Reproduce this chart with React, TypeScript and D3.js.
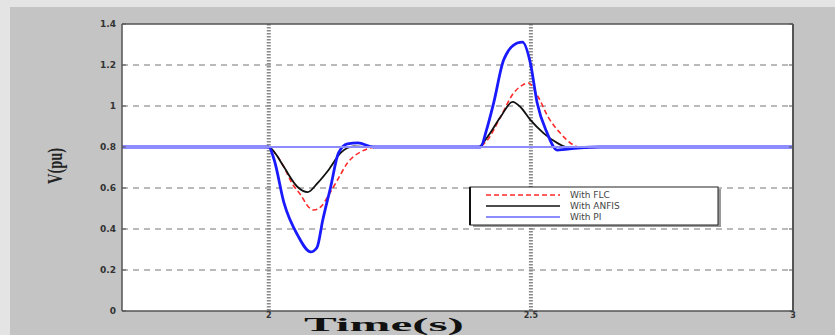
import React from "react";
import * as d3 from "d3";

const W = 835;
const H = 335;

const yTicks = [0, 0.2, 0.4, 0.6, 0.8, 1, 1.2, 1.4];
const xTicks = [2, 2.5, 3];
const seriesNames = ["With FLC", "With ANFIS", "With PI"];

// [time (s), V (pu)]
const flcSeries: [number, number][] = [
  [1.72, 0.8], [2.0, 0.8], [2.012, 0.77], [2.029, 0.702], [2.045, 0.62], [2.061, 0.566], [2.075, 0.51], [2.086, 0.493],
  [2.1, 0.51], [2.112, 0.556], [2.131, 0.639], [2.15, 0.722], [2.175, 0.776], [2.208, 0.8],
  [2.4, 0.8], [2.417, 0.834], [2.442, 0.946], [2.467, 1.063], [2.484, 1.102], [2.495, 1.112],
  [2.514, 1.044], [2.533, 0.946], [2.556, 0.868], [2.581, 0.81], [2.6, 0.795], [2.632, 0.8], [3.0, 0.8],
];
const anfisSeries: [number, number][] = [
  [1.72, 0.8], [2.0, 0.8], [2.012, 0.77], [2.029, 0.702], [2.055, 0.605], [2.074, 0.58], [2.093, 0.624],
  [2.114, 0.688], [2.137, 0.771], [2.162, 0.803], [2.185, 0.8],
  [2.4, 0.8], [2.417, 0.849], [2.442, 0.946], [2.465, 1.02], [2.48, 0.995], [2.499, 0.932],
  [2.524, 0.868], [2.55, 0.82], [2.575, 0.795], [2.613, 0.8], [3.0, 0.8],
];
const piSeries: [number, number][] = [
  [1.72, 0.8], [2.0, 0.8], [2.01, 0.74], [2.029, 0.527], [2.055, 0.37], [2.08, 0.288], [2.092, 0.31], [2.103, 0.444],
  [2.118, 0.605], [2.133, 0.771], [2.15, 0.815], [2.17, 0.82], [2.2, 0.8],
  [2.4, 0.8], [2.404, 0.8], [2.415, 0.88], [2.429, 1.015], [2.448, 1.224], [2.474, 1.307], [2.484, 1.312],
  [2.499, 1.21], [2.512, 1.015], [2.531, 0.868], [2.55, 0.785], [2.589, 0.795], [2.632, 0.8], [3.0, 0.8],
];

export default function App() {
  const left = 122, right = 793, top = 24, bottom = 311;
  const x = d3.scaleLinear().domain([1.72, 3.0]).range([left, right]);
  const y = d3.scaleLinear().domain([0, 1.4]).range([bottom, top]);
  const line = d3
    .line<[number, number]>()
    .x((d) => x(d[0]))
    .y((d) => y(d[1]))
    .curve(d3.curveMonotoneX);

  const series = [
    { name: seriesNames[0], data: flcSeries, color: "#ff2a2a", width: 1.6, dash: "5,3" },
    { name: seriesNames[1], data: anfisSeries, color: "#111", width: 1.8, dash: undefined },
    { name: seriesNames[2], data: piSeries, color: "#1a1aff", width: 2.8, dash: undefined },
  ];

  const lgX = 470, lgY = 187, lgW = 248, lgH = 38;

  return (
    <div style={{ position: "fixed", left: 0, top: 0 }}>
      <svg width={W} height={H} style={{ display: "block" }}>
        <rect x={0} y={0} width={W} height={H} fill="#e4e4e4" />
        <rect x={10} y={7} width={W - 10} height={H - 7} fill="#c4c4c4" />
        <rect x={left} y={top} width={right - left} height={bottom - top} fill="#ffffff" />

        {/* horizontal grid */}
        {yTicks.filter((t) => t > 0 && t < 1.4).map((t) => (
          <line key={"gy" + t} x1={left} x2={right} y1={y(t)} y2={y(t)} stroke="#555" strokeWidth={1} strokeDasharray="6,5" opacity={0.8} />
        ))}
        {/* vertical grid */}
        {xTicks.filter((t) => t < 3).map((t) => (
          <line key={"gx" + t} x1={x(t)} x2={x(t)} y1={top} y2={bottom} stroke="#8a8a8a" strokeWidth={4} strokeDasharray="1.5,1.5" />
        ))}

        {/* series */}
        {series.map((s) => (
          <path key={s.name} d={line(s.data) || ""} fill="none" stroke={s.color} strokeWidth={s.width} strokeDasharray={s.dash} strokeLinejoin="round" />
        ))}
        <line x1={left} x2={right} y1={y(0.8)} y2={y(0.8)} stroke="#8c8cff" strokeWidth={2} />

        {/* frame */}
        <line x1={left} x2={right} y1={top} y2={top} stroke="#555" strokeWidth={1.5} />
        <line x1={left} x2={right} y1={bottom} y2={bottom} stroke="#555" strokeWidth={1.5} />
        <line x1={left} x2={left} y1={top} y2={bottom} stroke="#555" strokeWidth={1.5} />
        <line x1={right} x2={right} y1={top} y2={bottom} stroke="#555" strokeWidth={2} />
        {yTicks.map((t) => (
          <g key={"ty" + t}>
            <line x1={left} x2={left + 4} y1={y(t)} y2={y(t)} stroke="#555" />
            <line x1={right - 4} x2={right} y1={y(t)} y2={y(t)} stroke="#555" />
            <text x={left - 6} y={y(t) + 3} textAnchor="end" fontSize={9} fontFamily="DejaVu Sans" fill="#333" fontWeight="bold">
              {d3.format("~g")(t)}
            </text>
          </g>
        ))}
        {xTicks.map((t) => (
          <text key={"tx" + t} x={x(t)} y={bottom + 7} textAnchor="middle" fontSize={8} fontFamily="DejaVu Sans" fill="#333" fontWeight="bold">
            {d3.format("~g")(t)}
          </text>
        ))}

        {/* axis titles */}
        <text x={384} y={331} textAnchor="middle" fontSize={18} fontWeight="bold" fontFamily="Liberation Serif" fill="#111" textLength={160} lengthAdjust="spacingAndGlyphs">
          Time(s)
        </text>
        <text transform="translate(62,166) rotate(-90)" textAnchor="middle" fontSize={22} fontWeight="bold" fontFamily="Liberation Serif" fill="#222" textLength={36} lengthAdjust="spacingAndGlyphs">
          V(pu)
        </text>

        {/* legend */}
        <rect x={lgX + 3} y={lgY + 2} width={lgW} height={lgH} fill="#9a9a9a" />
        <rect x={lgX} y={lgY} width={lgW} height={lgH} fill="#fff" stroke="#222" strokeWidth={1} />
        <line x1={lgX} x2={lgX} y1={lgY} y2={lgY + lgH} stroke="#111" strokeWidth={2} />
        {series.map((s, i) => {
          const yy = lgY + 8 + i * 11;
          return (
            <g key={"lg" + s.name}>
              <line x1={lgX + 16} x2={lgX + 90} y1={yy} y2={yy} stroke={s.color} strokeWidth={s.name === "With PI" ? 1.2 : 1.4} strokeDasharray={s.dash} />
              <text x={lgX + 100} y={yy + 3} fontSize={9} fontFamily="DejaVu Sans" fill="#444">
                {s.name}
              </text>
            </g>
          );
        })}
      </svg>
    </div>
  );
}
